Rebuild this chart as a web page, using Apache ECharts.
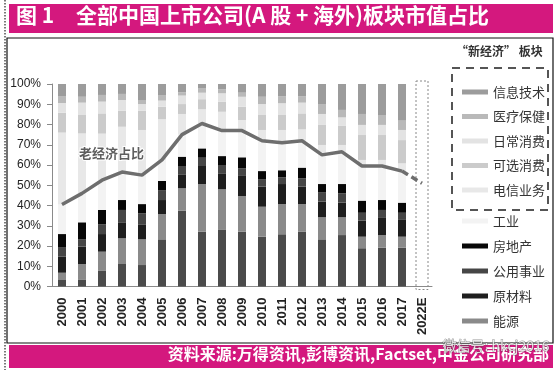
<!DOCTYPE html>
<html>
<head>
<meta charset="utf-8">
<script src="https://cdn.jsdelivr.net/npm/echarts@6/dist/echarts.min.js"></script>
<style>
html,body{margin:0;padding:0;background:#fff;}
#c{width:558px;height:370px;}
</style>
</head>
<body>
<div id="c"></div>
<script>
// ---- data (percent of total market cap) ----
const categories = ['2000','2001','2002','2003','2004','2005','2006','2007','2008','2009','2010','2011','2012','2013','2014','2015','2016','2017','2022E'];
const finance    = [3.2,3.5,7.7,11.1,10.6,23.3,37.4,27.1,28.2,27.1,24.6,25.8,27.0,23.3,25.4,18.9,19.2,19.2,null];
const energy     = [3.6,7.6,9.5,12.7,12.7,12.5,11.1,23.5,19.8,17.6,14.8,14.9,13.7,10.9,8.8,5.7,6.2,5.4,null];
const materials  = [7.9,8.6,8.7,7.9,7.4,6.9,6.9,8.9,7.9,9.9,9.9,9.9,8.6,7.7,7.2,7.9,8.8,8.6,null];
const utilities  = [4.5,3.5,4.8,6.1,5.4,4.9,4.1,4.1,4.1,3.8,3.5,3.3,4.1,4.5,4.6,3.9,3.6,3.2,null];
const realEstate = [6.7,8.5,7.1,4.9,4.6,4.5,4.6,4.6,4.4,5.4,4.2,3.5,5.3,4.2,4.6,6.0,4.9,5.0,null];
const industrial = [14.6,14.3,14.7,13.8,14.3,10.4,10.9,12.3,12.6,13.2,15.0,13.6,13.3,14.4,15.9,17.1,16.8,15.6,null];
const telecom    = [35.5,29.6,23.0,22.4,22.3,20.1,10.2,7.0,9.3,5.2,5.3,6.3,5.6,4.9,3.4,3.0,3.0,3.8,null];
const consDisc   = [9.8,9.1,10.0,7.9,9.5,6.2,4.9,5.0,5.0,6.6,7.4,7.4,7.9,9.9,9.4,12.3,12.3,11.5,null];
const consStap   = [4.8,6.1,5.8,5.3,3.3,3.0,4.2,3.2,4.1,4.9,5.4,5.8,5.3,5.4,4.2,5.0,5.0,5.0,null];
const health     = [3.2,2.9,3.3,3.0,1.7,2.5,1.6,2.3,2.0,2.0,3.6,3.5,3.2,4.9,3.7,5.4,4.9,4.6,null];
const infoTech   = [6.2,6.3,5.4,4.9,8.2,5.7,4.1,2.0,2.6,4.3,6.3,6.0,6.0,9.9,12.8,14.8,15.3,18.1,null];
const oldEconomy = [40.5,46,52.5,56.5,55,62.5,75,80.5,77,77,72,71,72,65,66.5,59.5,59.5,57,null];
const oldEconomyForecast = [null,null,null,null,null,null,null,null,null,null,null,null,null,null,null,null,null,57,51];

const stackDefs = [
  ['金融', finance, '#4b4b4b'],
  ['能源', energy, '#8a8a8a'],
  ['原材料', materials, '#1e1e1e'],
  ['公用事业', utilities, '#464646'],
  ['房地产', realEstate, '#070707'],
  ['工业', industrial, '#f3f3f3'],
  ['电信业务', telecom, '#e8e8e8'],
  ['可选消费', consDisc, '#cbcbcb'],
  ['日常消费', consStap, '#e3e3e3'],
  ['医疗保健', health, '#b9b9b9'],
  ['信息技术', infoTech, '#9c9c9c']
];
const newLegend = ['信息技术','医疗保健','日常消费','可选消费','电信业务'];
const oldLegend = ['工业','房地产','公用事业','原材料','能源'];

const FONT = '"Liberation Sans", Arial, "Noto Sans CJK SC", sans-serif';
const CJK = '"Noto Sans CJK SC", sans-serif';
const MAGENTA = '#d4187e';

const chart = echarts.init(document.getElementById('c'), null, {renderer:'canvas'});

const series = stackDefs.map(d => ({
  name: d[0], type: 'bar', stack: 'all', data: d[1], barWidth: 8,
  itemStyle: {color: d[2]}, emphasis: {disabled: true}, animation: false
}));
series.push({
  name: '老经济占比', type: 'line', data: oldEconomy, symbol: 'none',
  lineStyle: {color: '#6e6e6e', width: 3.5}, z: 5, animation: false
});
series.push({
  name: '老经济占比E', type: 'line', data: oldEconomyForecast, symbol: 'none',
  lineStyle: {color: '#6e6e6e', width: 3.5, type: [7, 4]}, z: 5, animation: false
});

const legendCommon = {
  orient: 'vertical', left: 457, itemWidth: 26, itemHeight: 5, icon: 'rect',
  selectedMode: false, itemGap: 10.5,
  textStyle: {fontSize: 13, lineHeight: 14, color: '#333', fontFamily: CJK}
};

chart.setOption({
  animation: false,
  grid: {left: 52, right: 126, top: 84, bottom: 83.5},
  xAxis: {
    type: 'category', data: categories,
    axisLine: {lineStyle: {color: '#8a8a8a'}},
    axisTick: {length: 4, lineStyle: {color: '#8a8a8a'}},
    axisLabel: {rotate: 90, margin: 11, fontSize: 13, fontWeight: 'bold', color: '#222', fontFamily: FONT, interval: 0}
  },
  yAxis: {
    type: 'value', min: 0, max: 100, interval: 10,
    splitLine: {show: false},
    axisLine: {show: true, lineStyle: {color: '#8a8a8a'}},
    axisTick: {show: true, length: 5, lineStyle: {color: '#8a8a8a'}},
    axisLabel: {formatter: '{value}%', fontSize: 12, color: '#222', margin: 11, fontFamily: FONT}
  },
  legend: [
    Object.assign({}, legendCommon, {data: newLegend, top: 80}),
    Object.assign({}, legendCommon, {data: oldLegend, top: 209, itemGap: 11})
  ],
  series: series
});

// decorations positioned from the axes
const xE = chart.convertToPixel({xAxisIndex: 0}, '2022E');
const yTop = chart.convertToPixel({yAxisIndex: 0}, 100);
const yZero = chart.convertToPixel({yAxisIndex: 0}, 0);

chart.setOption({
  graphic: [
    {type: 'line', shape: {x1: 5, y1: 0, x2: 5, y2: 370}, style: {stroke: '#222', lineWidth: 1.2, lineDash: [1.5, 1.5]}},
    {type: 'rect', shape: {x: 9, y: 4, width: 544, height: 29}, style: {fill: MAGENTA}},
    {type: 'text', left: 16, top: 5, style: {text: '图 1', fill: '#fff', font: 'bold 21px ' + CJK}},
    {type: 'text', left: 76, top: 5, style: {text: '全部中国上市公司(A 股 + 海外)板块市值占比', fill: '#fff', font: 'bold 21px ' + CJK}},
    {type: 'rect', shape: {x: 7, y: 38, width: 546, height: 305}, style: {fill: null, stroke: '#111', lineWidth: 1.2}},
    {type: 'rect', shape: {x: 9, y: 345, width: 544, height: 23}, style: {fill: MAGENTA}},
    {type: 'text', right: 9, top: 346, style: {text: '资料来源:万得资讯,彭博资讯,Factset,中金公司研究部', fill: '#fff', font: 'bold 16px ' + CJK}},
    {type: 'text', left: 442, top: 338, z: 20, style: {text: '微信号: hkcj2016', fill: 'rgba(255,255,255,0.8)', font: '14px ' + CJK, stroke: 'rgba(70,70,70,0.55)', lineWidth: 1}},
    {type: 'text', left: 456, top: 45, style: {text: '“新经济” 板块', fill: '#333', font: 'bold 12px ' + CJK}},
    {type: 'rect', shape: {x: 452, y: 68, width: 96, height: 142}, style: {fill: null, stroke: '#555', lineWidth: 2, lineDash: [8, 6]}},
    {type: 'text', left: 78, top: 146, z: 10, style: {text: '老经济占比', fill: '#5e5e5e', font: 'bold 13px ' + CJK, stroke: '#fff', lineWidth: 2}},
    {type: 'rect', shape: {x: xE - 6, y: yTop - 3, width: 12, height: (yZero - yTop) + 6}, style: {fill: null, stroke: '#888', lineWidth: 1, lineDash: [2, 2]}}
  ]
});
</script>
</body>
</html>
